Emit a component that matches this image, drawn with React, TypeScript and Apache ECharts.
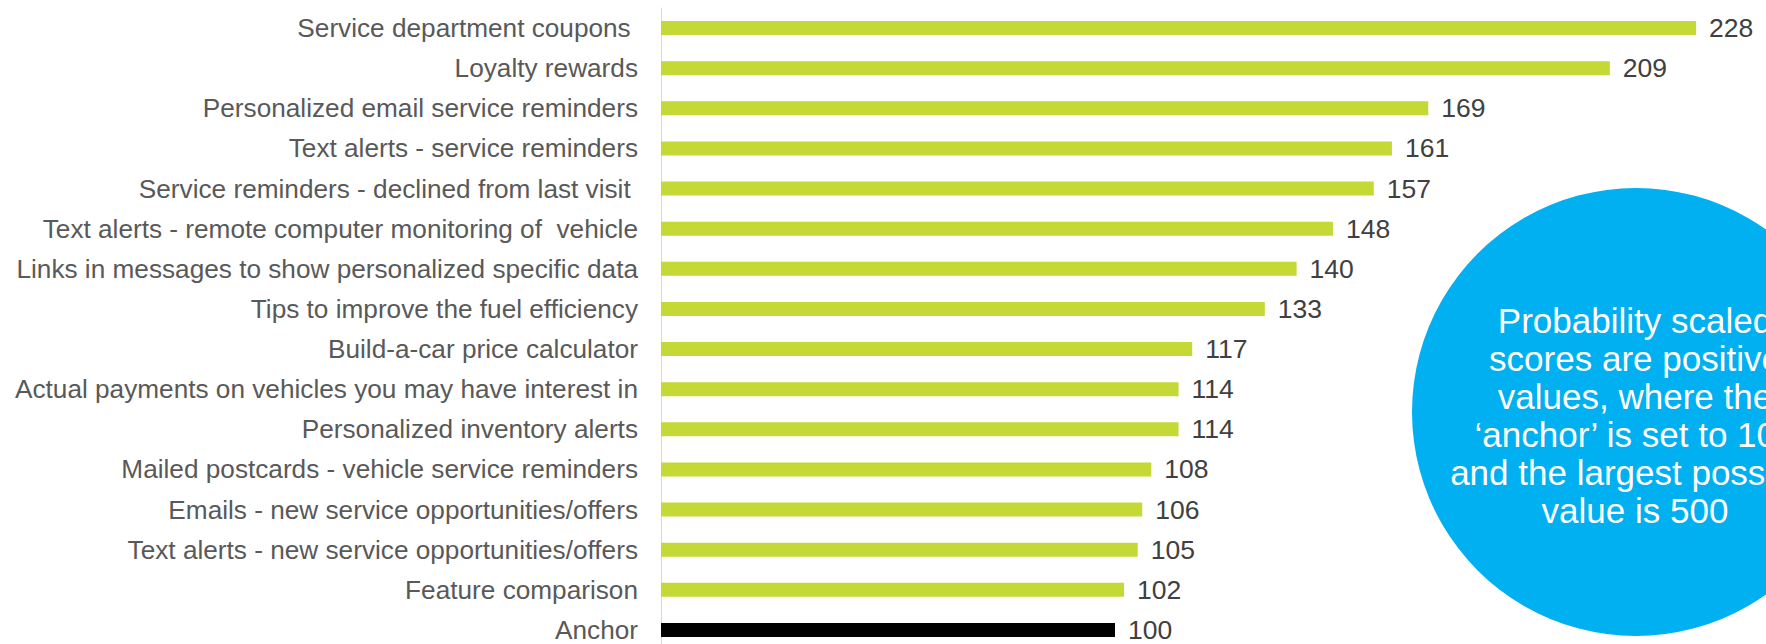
import React, { useEffect, useRef } from "react";
import * as echarts from "echarts";

const categories = [
  "Service department coupons ",
  "Loyalty rewards",
  "Personalized email service reminders",
  "Text alerts - service reminders",
  "Service reminders - declined from last visit ",
  "Text alerts - remote computer monitoring of  vehicle",
  "Links in messages to show personalized specific data",
  "Tips to improve the fuel efficiency",
  "Build-a-car price calculator",
  "Actual payments on vehicles you may have interest in",
  "Personalized inventory alerts",
  "Mailed postcards - vehicle service reminders",
  "Emails - new service opportunities/offers",
  "Text alerts - new service opportunities/offers",
  "Feature comparison",
  "Anchor",
];

const scores = [228, 209, 169, 161, 157, 148, 140, 133, 117, 114, 114, 108, 106, 105, 102, 100];

const noteLines = [
  "Probability scaled",
  "scores are positive",
  "values, where the",
  "\u2018anchor\u2019 is set to 100",
  "and the largest possible",
  "value is 500",
];

const GREEN = "#C4D935";
const ANCHOR = "#000000";
const BLUE = "#00B0F0";
const FONT = "Liberation Sans, Arial, sans-serif";

export default function App() {
  const ref = useRef<HTMLDivElement>(null);

  useEffect(() => {
    if (!ref.current) return;
    const chart = echarts.init(ref.current, undefined, { renderer: "svg" });
    const option = {
      animation: false,
      backgroundColor: "#ffffff",
      grid: { left: 661, top: 8, width: 1135, height: 642, containLabel: false },
      xAxis: {
        type: "value",
        min: 0,
        max: 250,
        show: false,
        splitLine: { show: false },
      },
      yAxis: {
        type: "category",
        inverse: true,
        data: categories,
        axisLine: { show: true, lineStyle: { color: "#D9D9D9", width: 1 } },
        axisTick: { show: false },
        axisLabel: {
          margin: 23,
          color: "#595959",
          fontSize: 26.2,
          fontFamily: FONT,
        },
      },
      series: [
        {
          type: "bar",
          barWidth: 14,
          data: scores.map((v, i) => ({
            value: v,
            itemStyle: { color: categories[i] === "Anchor" ? ANCHOR : GREEN },
          })),
          label: {
            show: true,
            position: "right",
            distance: 13,
            color: "#404040",
            fontSize: 26.5,
            fontFamily: FONT,
          },
        },
      ],
      graphic: [
        {
          type: "circle",
          shape: { cx: 1636, cy: 412, r: 224 },
          style: { fill: BLUE },
          z: 10,
        },
        {
          type: "text",
          x: 1635,
          y: 415,
          z: 11,
          style: {
            text: noteLines.join("\n"),
            fill: "#ffffff",
            fontSize: 35,
            lineHeight: 38,
            fontFamily: FONT,
            align: "center",
            verticalAlign: "middle",
          },
        },
      ],
    };
    chart.setOption(option);
    return () => chart.dispose();
  }, []);

  return (
    <div
      style={{
        position: "absolute",
        left: 0,
        top: 0,
        width: 1766,
        height: 644,
        overflow: "hidden",
        background: "#ffffff",
      }}
    >
      <div ref={ref} style={{ width: 1800, height: 660 }} />
    </div>
  );
}
